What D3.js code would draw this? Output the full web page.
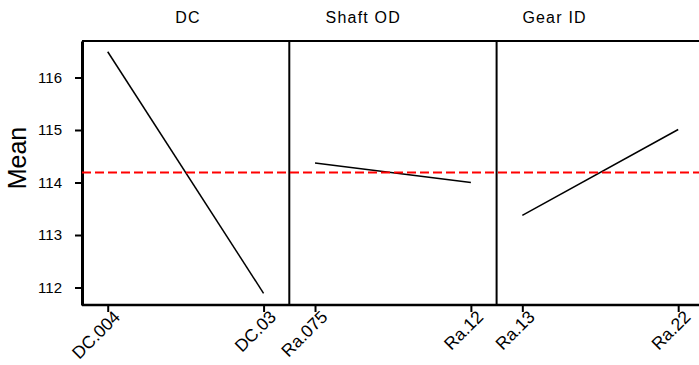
<!DOCTYPE html>
<html>
<head>
<meta charset="utf-8">
<script src="https://cdn.jsdelivr.net/npm/d3@7"></script>
<style>
  body { margin: 0; background: #fff; }
  svg { display: block; font-family: "Liberation Sans", Arial, sans-serif; }
</style>
</head>
<body>
<div id="chart"></div>
<script>
// main effects plot for means
const factors = ['DC', 'Shaft OD', 'Gear ID'];
const levels = [['DC.004', 'DC.03'], ['Ra.075', 'Ra.12'], ['Ra.13', 'Ra.22']];
const means = [[116.49, 111.89], [114.37, 114.00], [113.375, 115.01]];
const grandMean = 114.19;
const yTicks = [112, 113, 114, 115, 116];

const width = 699, height = 365;
const margin = {top: 41, left: 82, bottom: 60};
const panelW = 207.3;
const plotH = height - margin.top - margin.bottom;
const titleOffset = [106, 74, 58]; // title centre from panel left
const fontFam = '"Liberation Sans", Arial, sans-serif';

const svg = d3.select('#chart').append('svg')
    .attr('width', width)
    .attr('height', height);

const scaleY = d3.scaleLinear().domain([111.667, 116.695]).range([margin.top + plotH, margin.top]);

// y axis
const yAxis = svg.append('g')
    .attr('transform', 'translate(' + margin.left + ',0)')
    .attr('font-family', fontFam)
    .call(d3.axisLeft(scaleY).tickValues(yTicks).tickSize(7).tickSizeOuter(0).tickPadding(13).tickFormat(d3.format('d')));
yAxis.select('.domain').attr('stroke-width', 3);
yAxis.selectAll('.tick line').attr('stroke-width', 2);
yAxis.selectAll('.tick text').style('font-size', '15px').attr('fill', '#000');

svg.append('text')
    .attr('transform', 'translate(26,158) rotate(-90)')
    .attr('text-anchor', 'middle')
    .style('font-size', '25px')
    .text('Mean');

// top border and bottom line
svg.append('line')
    .attr('x1', margin.left).attr('x2', width)
    .attr('y1', margin.top).attr('y2', margin.top)
    .attr('stroke', '#000').attr('stroke-width', 2);
svg.append('line')
    .attr('x1', margin.left).attr('x2', width)
    .attr('y1', margin.top + plotH).attr('y2', margin.top + plotH)
    .attr('stroke', '#000').attr('stroke-width', 2.5);

factors.forEach((f, i) => {
  const x0 = margin.left + i * panelW;
  const scaleX = d3.scalePoint().domain(levels[i]).range([x0, x0 + panelW]).padding(0.165);

  // panel divider
  if (i > 0) {
    svg.append('line')
        .attr('x1', x0).attr('x2', x0)
        .attr('y1', margin.top).attr('y2', margin.top + plotH)
        .attr('stroke', '#000').attr('stroke-width', 2);
  }

  svg.append('text')
      .attr('x', x0 + titleOffset[i])
      .attr('y', 23)
      .attr('text-anchor', 'middle')
      .style('font-size', '16px')
      .style('letter-spacing', '1.2px')
      .text(f);

  // x ticks, labels rotated 45 deg
  const xAxis = svg.append('g')
      .attr('transform', 'translate(0,' + (margin.top + plotH) + ')')
      .attr('font-family', fontFam)
      .call(d3.axisBottom(scaleX).tickSize(7).tickSizeOuter(0));
  xAxis.select('.domain').remove();
  xAxis.selectAll('.tick line').attr('stroke-width', 2);
  xAxis.selectAll('.tick text')
      .style('font-size', '17.5px')
      .attr('fill', '#000')
      .attr('text-anchor', 'end')
      .attr('x', 0).attr('y', 0).attr('dy', 0)
      .attr('transform', 'translate(13,13) rotate(-45)');

  const pts = levels[i].map((l, j) => ({level: l, value: means[i][j]}));
  svg.append('path')
      .datum(pts)
      .attr('fill', 'none')
      .attr('stroke', '#000')
      .attr('stroke-width', 1.5)
      .attr('d', d3.line().x(d => scaleX(d.level)).y(d => scaleY(d.value)));
});

// grand mean reference line
svg.append('line')
    .attr('x1', margin.left).attr('x2', width)
    .attr('y1', scaleY(grandMean)).attr('y2', scaleY(grandMean))
    .attr('stroke', '#ff0000')
    .attr('stroke-width', 2)
    .attr('stroke-dasharray', '9,4');
</script>
</body>
</html>
